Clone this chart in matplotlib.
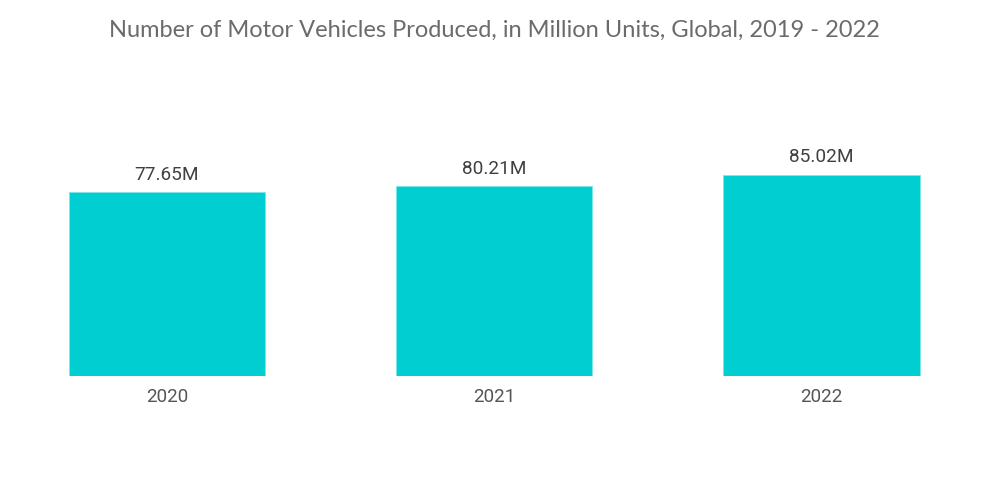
import matplotlib
matplotlib.use("Agg")
import matplotlib.pyplot as plt

years = ["2020", "2021", "2022"]
values = [77.65, 80.21, 85.02]
labels = ["77.65M", "80.21M", "85.02M"]

fig = plt.figure(figsize=(10, 5.04), dpi=100)
ax = fig.add_axes([0.00325, 0.254, 0.98175, 0.4697])
x = list(range(len(years)))
ax.bar(x, values, width=0.6, color="#00CED1", edgecolor="#7FE6E8", linewidth=0.6)
ax.set_xlim(-0.5, 2.5)
ax.set_ylim(0, 100)
for xi, v, l in zip(x, values, labels):
    ax.annotate(l, (xi, v), xytext=(0, 6), textcoords="offset points",
                ha="center", va="bottom", fontsize=13.7, family="Roboto", color="#404040")
ax.set_xticks(x)
ax.set_xticklabels(years, fontsize=13.5, family="Roboto", color="#555555")
ax.tick_params(axis="x", length=0, pad=9)
ax.set_yticks([])
for s in ax.spines.values():
    s.set_visible(False)
fig.text(0.494, 0.94, "Number of Motor Vehicles Produced, in Million Units, Global, 2019 - 2022",
         ha="center", va="center", fontsize=17, family="Lato", color="#6b6b6b")
fig.savefig("out.png", dpi=100)
